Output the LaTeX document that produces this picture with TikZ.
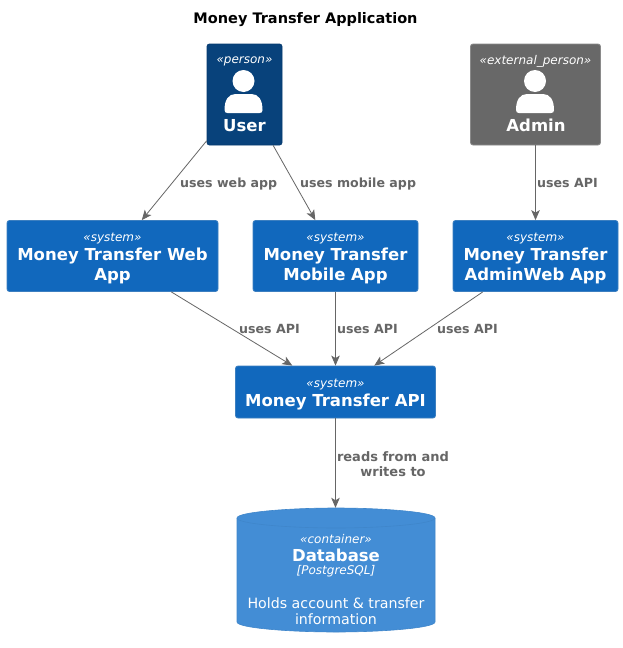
\documentclass[tikz,border=0pt]{standalone}
\usepackage{fontspec}
\setmainfont{DejaVu Sans}
\usetikzlibrary{arrows.meta}
\definecolor{sysfill}{HTML}{1168BD}
\definecolor{sysline}{HTML}{3C7FC0}
\definecolor{userfill}{HTML}{08427B}
\definecolor{userline}{HTML}{073B6F}
\definecolor{extfill}{HTML}{686868}
\definecolor{extline}{HTML}{8A8A8A}
\definecolor{dbfill}{HTML}{438DD5}
\definecolor{dbline}{HTML}{3F86CB}
\definecolor{edgegray}{HTML}{666666}
\newcommand{\stereo}[1]{{\fontsize{12}{15}\selectfont\itshape «#1»}}
\newcommand{\sysstereo}[1]{\rule{0pt}{13pt}\stereo{#1}}
\newcommand{\bigname}[1]{{\fontsize{16.5}{20}\selectfont\bfseries #1}}
\tikzset{
  x=1pt,y=-1pt,
  boxbase/.style={rectangle,rounded corners=2.5pt,line width=.8pt,text=white,align=center,inner sep=0pt,font=\fontsize{16}{20}\selectfont},
  sysbox/.style={boxbase,fill=sysfill,draw=sysline},
  userbox/.style={boxbase,fill=userfill,draw=userline},
  extbox/.style={boxbase,fill=extfill,draw=extline},
  whitetext/.style={text=white,inner sep=0pt,align=center},
  rel/.style={draw=edgegray,line width=.8pt,-{Stealth[length=10pt,width=8.5pt,inset=2.5pt]},fill=none},
  rellabel/.style={text=edgegray,font=\fontsize{12.6}{14.5}\selectfont\bfseries,inner sep=0pt,align=center,anchor=base west},
}
\begin{document}
\begin{tikzpicture}
\useasboundingbox (0,0) rectangle (623,648);
\fill[white] (0,0) rectangle (623,648);
\node[inner sep=0pt,font=\fontsize{14.5}{16}\selectfont\bfseries] (title) at (305.5,19.5) {Money Transfer Application};

% person boxes
\node[userbox,minimum width=75pt,minimum height=101pt] (user) at (244.5,94.5) {};
\node[extbox,minimum width=130pt,minimum height=101pt] (admin) at (535.5,94.5) {};
\node[whitetext] (userst) at (244.5,61) {\stereo{person}};
\node[whitetext] (userna) at (244.5,125.5) {\bigname{User}};
\node[whitetext] (adminst) at (535.5,61) {\stereo{external\_person}};
\node[whitetext] (adminna) at (536,125.5) {\bigname{Admin}};
\foreach \cx in {243.5,535}{
  \fill[white] (\cx,81) circle[radius=11];
  \fill[white] (\cx-19,110) .. controls (\cx-19,100) and (\cx-15,94) .. (\cx-8,94) -- (\cx+8,94)
     .. controls (\cx+15,94) and (\cx+19,100) .. (\cx+19,110)
     .. controls (\cx+19,112) and (\cx+18,113) .. (\cx+16,113) -- (\cx-16,113)
     .. controls (\cx-18,113) and (\cx-19,112) .. (\cx-19,110) -- cycle;
}

% systems
\node[sysbox,minimum width=211pt,minimum height=71pt] (web) at (112.5,256) {\sysstereo{system}\\[-1pt]\bigname{Money Transfer Web}\\\bigname{App}};
\node[sysbox,minimum width=165pt,minimum height=71pt] (mobile) at (335.5,256) {\sysstereo{system}\\[-1pt]\bigname{Money Transfer}\\\bigname{Mobile App}};
\node[sysbox,minimum width=165pt,minimum height=71pt] (adminweb) at (535.5,256) {\sysstereo{system}\\[-1pt]\bigname{Money Transfer}\\\bigname{AdminWeb App}};
\node[sysbox,minimum width=200pt,minimum height=52pt] (api) at (335.5,392) {\sysstereo{system}\\[-1pt]\bigname{Money Transfer API}};

% database
\fill[dbfill] (237,518) .. controls (237,512) and (290,508) .. (336,508)
  .. controls (382,508) and (435,512) .. (435,518) -- (435,622)
  .. controls (435,628) and (382,632) .. (336,632)
  .. controls (290,632) and (237,628) .. (237,622) -- cycle;
\draw[dbline,line width=.6pt] (237,518) .. controls (237,524) and (290,528) .. (336,528)
  .. controls (382,528) and (435,524) .. (435,518);
\draw[dbline,line width=.6pt] (237,518) .. controls (237,512) and (290,508) .. (336,508)
  .. controls (382,508) and (435,512) .. (435,518) -- (435,622)
  .. controls (435,628) and (382,632) .. (336,632)
  .. controls (290,632) and (237,628) .. (237,622) -- cycle;
\node[rectangle,inner sep=0pt,minimum width=199pt,minimum height=124pt] (db) at (335.5,570) {};
\node[whitetext] (dbst) at (336,539) {\stereo{container}};
\node[whitetext] (dbna) at (336,555.5) {\bigname{Database}};
\node[whitetext] (dbte) at (336,571.5) {{\fontsize{12}{15}\selectfont\itshape [PostgreSQL]}};
\node[whitetext,font=\fontsize{14.2}{16}\selectfont] (dbde) at (336,611) {Holds account \& transfer\\information};

% connectors
\draw[rel] (user) -- (web);
\draw[rel] (user) -- (mobile);
\draw[rel] (admin) -- (adminweb);
\draw[rel] (web) -- (api);
\draw[rel] (mobile) -- (api);
\draw[rel] (adminweb) -- (api);
\draw[rel] (api) -- (db);

% labels
\node[rellabel] (l1) at (180,187) {uses web app};
\node[rellabel] (l2) at (300,187) {uses mobile app};
\node[rellabel] (l3) at (537,187) {uses API};
\node[rellabel] (l4) at (239,333) {uses API};
\node[rellabel] (l5) at (337,333) {uses API};
\node[rellabel] (l6) at (437,333) {uses API};
\node[rellabel,anchor=center,font=\fontsize{13}{14.5}\selectfont\bfseries] (l7) at (393,464) {reads from and\\writes to};
\end{tikzpicture}
\end{document}
